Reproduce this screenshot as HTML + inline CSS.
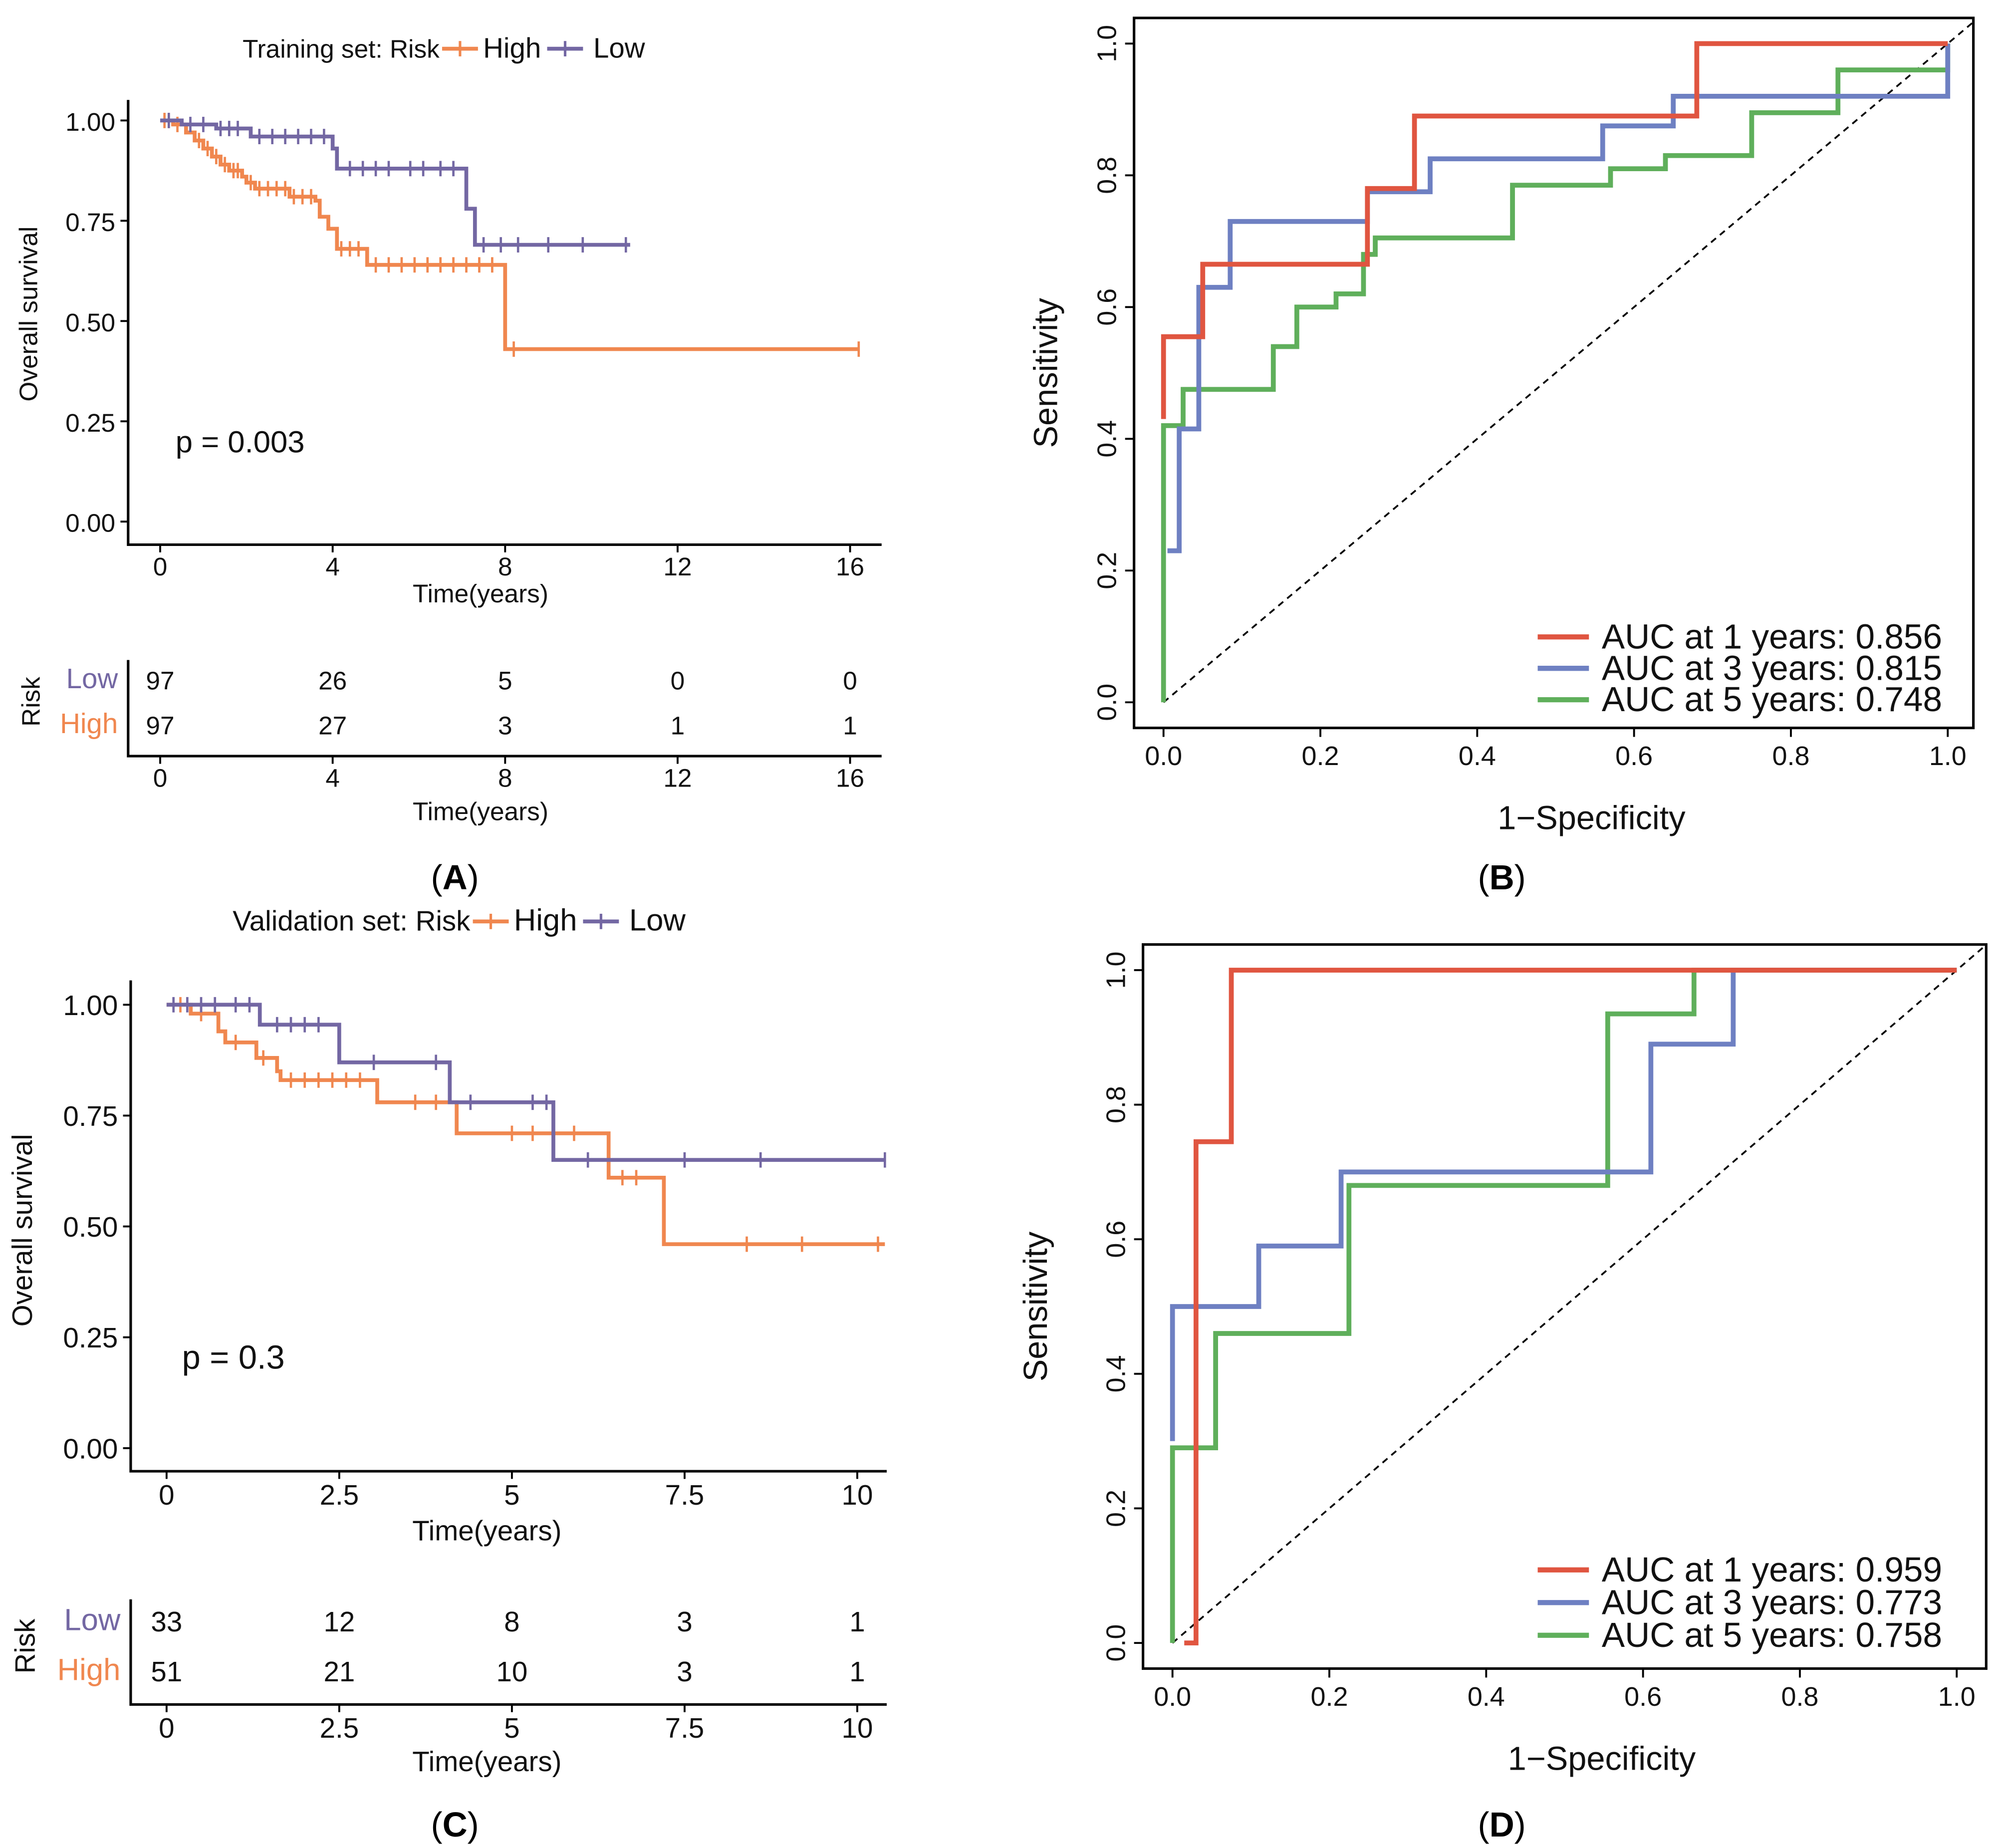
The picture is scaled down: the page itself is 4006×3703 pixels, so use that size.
<!DOCTYPE html>
<html><head><meta charset="utf-8"><style>
html,body{margin:0;padding:0;background:#fff}
svg{display:block}
text{font-family:"Liberation Sans",sans-serif}
</style></head><body>
<svg id="s" width="4006" height="3703" viewBox="0 0 1560 1442" xmlns="http://www.w3.org/2000/svg">
<rect width="1560" height="1442" fill="#fff"/>
</svg>
<script>
// ---------- data ----------
const kmATimesHigh=[0,0.3,0.6,0.8,1.0,1.2,1.4,1.6,1.9,2.0,2.2,3.0,3.6,3.7,3.9,4.1,4.8,8.0,16.2];
const kmASurvHigh=[1,0.99,0.97,0.95,0.93,0.91,0.89,0.875,0.86,0.845,0.83,0.81,0.80,0.76,0.73,0.68,0.64,0.43,0.43];
const kmATimesLow=[0,0.5,1.3,2.1,4.0,4.1,7.1,7.3,10.9];
const kmASurvLow=[1,0.99,0.98,0.96,0.93,0.88,0.78,0.69,0.69];
const kmACensHigh=[0.1,0.2,0.4,0.9,1.1,1.3,1.5,1.7,1.8,2.1,2.3,2.5,2.7,2.9,3.1,3.3,3.5,4.2,4.4,4.6,5.0,5.3,5.6,5.9,6.2,6.5,6.8,7.1,7.4,7.7,8.2,16.2];
const kmACensLow=[0.2,0.7,1.0,1.4,1.6,1.8,2.3,2.6,2.9,3.2,3.5,3.8,4.4,4.7,5.0,5.3,5.8,6.1,6.5,6.8,7.5,7.9,8.3,9.0,9.8,10.8];
const riskATicks=[0,4,8,12,16];
const riskALow=[97,26,5,0,0];
const riskAHigh=[97,27,3,1,1];

const kmCTimesHigh=[0,0.35,0.75,0.85,1.3,1.6,1.65,3.05,4.2,6.4,7.2,10.4];
const kmCSurvHigh=[1,0.98,0.94,0.915,0.88,0.85,0.83,0.78,0.71,0.61,0.46,0.46];
const kmCTimesLow=[0,1.35,2.5,4.1,5.6,10.4];
const kmCSurvLow=[1,0.955,0.87,0.78,0.65,0.65];
const kmCCensHigh=[0.2,0.5,1.0,1.4,1.8,2.0,2.2,2.4,2.6,2.8,3.6,3.9,5.0,5.3,5.9,6.6,6.8,8.4,9.2,10.3];
const kmCCensLow=[0.1,0.3,0.5,0.7,1.0,1.2,1.6,1.8,2.0,2.2,3.0,3.9,4.4,5.3,5.5,6.1,7.5,8.6,10.4];
const riskCTicks=[0,2.5,5,7.5,10];
const riskCLow=[33,12,8,3,1];
const riskCHigh=[51,21,10,3,1];

const rocBRedX=[0,0,0.05,0.05,0.26,0.26,0.32,0.32,0.68,0.68,1];
const rocBRedY=[0.43,0.555,0.555,0.665,0.665,0.78,0.78,0.89,0.89,1,1];
const rocBBlueX=[0.005,0.02,0.02,0.045,0.045,0.085,0.085,0.26,0.26,0.34,0.34,0.56,0.56,0.65,0.65,1,1];
const rocBBlueY=[0.23,0.23,0.415,0.415,0.63,0.63,0.73,0.73,0.775,0.775,0.825,0.825,0.875,0.875,0.92,0.92,1];
const rocBGreenX=[0,0,0.025,0.025,0.14,0.14,0.17,0.17,0.22,0.22,0.255,0.255,0.27,0.27,0.445,0.445,0.57,0.57,0.64,0.64,0.75,0.75,0.86,0.86,1,1];
const rocBGreenY=[0,0.42,0.42,0.475,0.475,0.54,0.54,0.6,0.6,0.62,0.62,0.68,0.68,0.705,0.705,0.785,0.785,0.81,0.81,0.83,0.83,0.895,0.895,0.96,0.96,1];
const rocBLegend=["AUC at 1 years: 0.856","AUC at 3 years: 0.815","AUC at 5 years: 0.748"];

const rocDRedX=[0.015,0.03,0.03,0.075,0.075,1];
const rocDRedY=[0,0,0.745,0.745,1,1];
const rocDBlueX=[0,0,0.11,0.11,0.215,0.215,0.61,0.61,0.715,0.715,1];
const rocDBlueY=[0.3,0.5,0.5,0.59,0.59,0.7,0.7,0.89,0.89,1,1];
const rocDGreenX=[0,0,0.055,0.055,0.225,0.225,0.555,0.555,0.665,0.665,1];
const rocDGreenY=[0,0.29,0.29,0.46,0.46,0.68,0.68,0.935,0.935,1,1];
const rocDLegend=["AUC at 1 years: 0.959","AUC at 3 years: 0.773","AUC at 5 years: 0.758"];
const rocTicks=[0,0.2,0.4,0.6,0.8,1.0];
const kmYTicks=[0,0.25,0.5,0.75,1.0];

// ---------- helpers ----------
const S=document.getElementById('s');const NS='http://www.w3.org/2000/svg';
function mk(tag,attrs,parent){const e=document.createElementNS(NS,tag);for(const k in attrs)e.setAttribute(k,attrs[k]);(parent||S).appendChild(e);return e;}
function txt(x,y,s,size,opts,parent){opts=opts||{};const t=mk('text',Object.assign({x:x,y:y,'font-size':size,fill:opts.fill||'#111','text-anchor':opts.anchor||'middle'},opts.extra||{}),parent);t.textContent=s;return t;}
const ORANGE='#F0874F',PURPLE='#7367A3',RED='#E05540',BLUE='#6E80C2',GREEN='#5FAF5B';

function kmPanel(cfg){
  const g=mk('g',{});
  
  
  const X=v=>cfg.x0+(v-cfg.t0)*cfg.xs, Y=v=>cfg.y0-(v)*cfg.ys;
  const ax=mk('path',{d:`M${cfg.axL},${cfg.axTop}V${cfg.axB}H${cfg.axR}`,fill:'none',stroke:'#000','stroke-width':2},g);
  
  
  kmYTicks.forEach(v=>{mk('line',{x1:cfg.axL-6,x2:cfg.axL,y1:Y(v),y2:Y(v),stroke:'#000','stroke-width':1.5},g);
    const t=txt(cfg.axL-10,Y(v)+8,v.toFixed(2),cfg.fs,{anchor:'end'},g);});
  cfg.ticks.forEach(v=>{mk('line',{x1:X(v),x2:X(v),y1:cfg.axB,y2:cfg.axB+6,stroke:'#000','stroke-width':1.5},g);
    const t=txt(X(v),cfg.axB+cfg.fs+4,String(v),cfg.fs,{},g);});
  function curve(ts,ss,cens,col,nm){
    let d=`M${X(ts[0])},${Y(ss[0])}`;
    for(let i=1;i<ts.length;i++){d+=`H${X(ts[i])}V${Y(ss[i])}`;}
    const p=mk('path',{d:d,fill:'none',stroke:col,'stroke-width':3},g);
    
    
    cens.forEach(c=>{let s=ss[0];for(let i=0;i<ts.length;i++)if(ts[i]<=c)s=ss[i];
      const m=mk('path',{d:`M${X(c)},${Y(s)-6}v12`,stroke:col,'stroke-width':1.8},g);
      
      });
  }
  curve(cfg.th,cfg.sh,cfg.ch,ORANGE,'high-risk');
  curve(cfg.tl,cfg.sl,cfg.cl,PURPLE,'low-risk');
  let t=txt(cfg.xlabX,cfg.xlabY,'Time(years)',cfg.fs,{},g);
  t=txt(0,0,'Overall survival',cfg.fs,{extra:{transform:`translate(${cfg.ylabX},${cfg.ylabY}) rotate(-90)`}},g);
  t=txt(cfg.pX,cfg.pY,cfg.p,cfg.fs+4,{anchor:'start'},g);
  const lg=mk('g',{},g);
  t=txt(cfg.legX,cfg.legY,cfg.legTitle,cfg.fs,{anchor:'end'},lg);
  const lx=cfg.legX+2;
  mk('line',{x1:lx,x2:lx+28,y1:cfg.legY-7,y2:cfg.legY-7,stroke:ORANGE,'stroke-width':3},lg);
  mk('line',{x1:lx+14,x2:lx+14,y1:cfg.legY-13,y2:cfg.legY-1,stroke:ORANGE,'stroke-width':2},lg);
  txt(lx+32,cfg.legY,'High',cfg.fs+2,{anchor:'start'},lg);
  const lx2=lx+cfg.legGap;
  mk('line',{x1:lx2,x2:lx2+28,y1:cfg.legY-7,y2:cfg.legY-7,stroke:PURPLE,'stroke-width':3},lg);
  mk('line',{x1:lx2+14,x2:lx2+14,y1:cfg.legY-13,y2:cfg.legY-1,stroke:PURPLE,'stroke-width':2},lg);
  txt(lx2+36,cfg.legY,'Low',cfg.fs+2,{anchor:'start'},lg);
  const rt=mk('g',{},g);
  mk('path',{d:`M${cfg.axL},${cfg.rTop}V${cfg.rB}H${cfg.axR}`,fill:'none',stroke:'#000','stroke-width':2},rt);
  txt(cfg.axL-8,cfg.rLowY+7,'Low',cfg.fs+2,{anchor:'end',fill:PURPLE},rt);
  txt(cfg.axL-8,cfg.rHighY+7,'High',cfg.fs+2,{anchor:'end',fill:ORANGE},rt);
  txt(0,0,'Risk',cfg.fs,{extra:{transform:`translate(${cfg.ylabX+2},${(cfg.rLowY+cfg.rHighY)/2}) rotate(-90)`}},rt);
  cfg.ticks.forEach((v,i)=>{
    let a=txt(X(v),cfg.rLowY+8,String(cfg.rl[i]),cfg.fs,{},rt);
    a=txt(X(v),cfg.rHighY+8,String(cfg.rh[i]),cfg.fs,{},rt);
    mk('line',{x1:X(v),x2:X(v),y1:cfg.rB,y2:cfg.rB+6,stroke:'#000','stroke-width':1.5},rt);
    txt(X(v),cfg.rB+cfg.fs+4,String(v),cfg.fs,{},rt);
  });
  txt(cfg.xlabX,cfg.rB+cfg.fs+30,'Time(years)',cfg.fs,{},rt);
}

kmPanel({name:'km-training',x0:125,t0:0,xs:33.65,y0:407,ys:313,axL:100,axTop:78,axB:425,axR:688,fs:20,ticks:riskATicks,
 th:kmATimesHigh,sh:kmASurvHigh,ch:kmACensHigh,tl:kmATimesLow,sl:kmASurvLow,cl:kmACensLow,
 xlabX:375,xlabY:470,ylabX:29,ylabY:245,pX:137,pY:353,p:'p = 0.003',legX:343,legY:45,legGap:82,legTitle:'Training set: Risk',
 rTop:515,rB:590,rLowY:530,rHighY:565,rl:riskALow,rh:riskAHigh});
kmPanel({name:'km-validation',x0:130,t0:0,xs:53.9,y0:1130,ys:346,axL:102,axTop:765,axB:1148,axR:692,fs:22,ticks:riskCTicks,
 th:kmCTimesHigh,sh:kmCSurvHigh,ch:kmCCensHigh,tl:kmCTimesLow,sl:kmCSurvLow,cl:kmCCensLow,
 xlabX:380,xlabY:1202,ylabX:25,ylabY:960,pX:142,pY:1068,p:'p = 0.3',legX:367,legY:726,legGap:86,legTitle:'Validation set: Risk',
 rTop:1248,rB:1330,rLowY:1265,rHighY:1304,rl:riskCLow,rh:riskCHigh});

function rocPanel(cfg){
  const g=mk('g',{});
  
  
  const X=v=>cfg.x0+v*(cfg.x1-cfg.x0), Y=v=>cfg.y0-v*(cfg.y0-cfg.y1);
  const box=mk('rect',{x:cfg.bl,y:cfg.bt,width:cfg.br-cfg.bl,height:cfg.bb-cfg.bt,fill:'none',stroke:'#000','stroke-width':2},g);
  
  const vEnd=Math.min((cfg.br-cfg.x0)/(cfg.x1-cfg.x0),(cfg.y0-cfg.bt)/(cfg.y0-cfg.y1));
  const dg=mk('line',{x1:X(0),y1:Y(0),x2:X(vEnd),y2:Y(vEnd),stroke:'#000','stroke-width':1.4,'stroke-dasharray':'5,4'},g);
  
  rocTicks.forEach(v=>{
    mk('line',{x1:X(v),x2:X(v),y1:cfg.bb,y2:cfg.bb+7,stroke:'#000','stroke-width':1.5},g);
    let t=txt(X(v),cfg.bb+29,v.toFixed(1),21,{},g);
    mk('line',{x1:cfg.bl-7,x2:cfg.bl,y1:Y(v),y2:Y(v),stroke:'#000','stroke-width':1.5},g);
    t=txt(0,0,v.toFixed(1),21,{extra:{transform:`translate(${cfg.bl-14},${Y(v)}) rotate(-90)`}},g);
  });
  let t=txt(cfg.xlabX,cfg.bb+79,'1\u2212Specificity',26,{},g);
  t=txt(0,0,'Sensitivity',26,{extra:{transform:`translate(${cfg.ylabX},${(cfg.bt+cfg.bb)/2}) rotate(-90)`}},g);
  function line(xs,ys,col,nm){let d='';xs.forEach((x,i)=>{d+=(i?'L':'M')+X(x)+','+Y(ys[i]);});
    const p=mk('path',{d:d,fill:'none',stroke:col,'stroke-width':3.8},g);}
  line(cfg.gx,cfg.gy,GREEN,'roc-5-years');
  line(cfg.bx,cfg.by,BLUE,'roc-3-years');
  line(cfg.rx,cfg.ry,RED,'roc-1-year');
  const lg=mk('g',{},g);
  [RED,BLUE,GREEN].forEach((c,i)=>{const y=cfg.legY+i*cfg.legStep;
    mk('line',{x1:1200,x2:1240,y1:y,y2:y,stroke:c,'stroke-width':4},lg);
    const e=txt(1250,y+9,cfg.leg[i],27,{anchor:'start'},lg);});
}
rocPanel({name:'roc-training',x0:908,x1:1520,y0:548,y1:34,bl:885,br:1540,bt:14,bb:568,xlabX:1242,ylabX:825,
 rx:rocBRedX,ry:rocBRedY,bx:rocBBlueX,by:rocBBlueY,gx:rocBGreenX,gy:rocBGreenY,leg:rocBLegend,legY:497,legStep:24.5});
rocPanel({name:'roc-validation',x0:915,x1:1527,y0:1282,y1:757,bl:892,br:1550,bt:737,bb:1302,xlabX:1250,ylabX:817,
 rx:rocDRedX,ry:rocDRedY,bx:rocDBlueX,by:rocDBlueY,gx:rocDGreenX,gy:rocDGreenY,leg:rocDLegend,legY:1225,legStep:25.5});

[['(A)',355,694],['(B)',1172,694],['(C)',355,1433],['(D)',1172,1433]].forEach(a=>{
  const t=mk('text',{x:a[1],y:a[2],'font-size':27,'text-anchor':'middle',fill:'#000','font-family':'"Liberation Serif",serif'});
  
  
  t.appendChild(document.createTextNode('('));
  const b=mk('tspan',{'font-weight':'bold'},t);b.textContent=a[0][1];
  t.appendChild(document.createTextNode(')'));
});
</script>
</body></html>
